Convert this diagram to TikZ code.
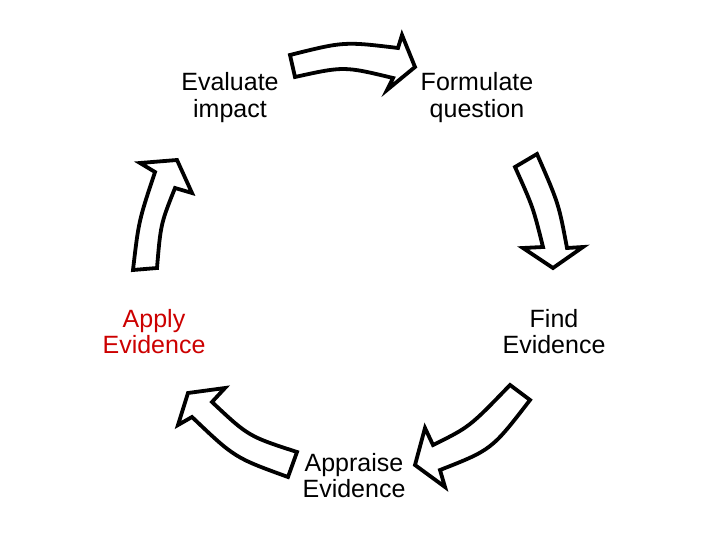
\documentclass[tikz,border=0pt]{standalone}
\usepackage{fontspec}
\setmainfont{Liberation Sans}
\definecolor{applyred}{RGB}{204,0,0}
\begin{document}
\begin{tikzpicture}[x=1pt,y=-1pt,
	steplabel/.style={align=center,anchor=base,inner sep=0pt,font=\fontsize{25}{26.5}\selectfont},
	blockarrow/.style={draw=black,fill=white,line width=3.8pt,line join=miter,miter limit=10}]
	\useasboundingbox (0,0) rectangle (720,540);
	\foreach \n/\x/\y/\c/\t in {eval/230/117.5/black/{Evaluate\\impact},form/477/117.5/black/{Formulate\\question},apply/154/353.5/applyred/{Apply\\Evidence},find/554/353.5/black/{Find\\Evidence},appr/354/497.5/black/{Appraise\\Evidence}}
	\node[steplabel,text=\c] (\n) at (\x,\y) {\t};
	% mui ten
	\draw[blockarrow] (290,55) .. controls (344,41.5) .. (398,48) -- (402,35) -- (415,67) -- (387,90) -- (393,78) .. controls (344,66.2) .. (295,77) -- cycle;
	\draw[blockarrow] (515,167) .. controls (533,207) .. (543,247) -- (523,248) -- (553,268) -- (583,247) -- (567,248) .. controls (558.7,203.7) .. (537,154) -- cycle;
	\draw[blockarrow] (510,385) .. controls (469.5,427) .. (433,445) -- (425,428) -- (415,465) -- (445,487) -- (440,470) .. controls (491.7,449.7) .. (530,400) -- cycle;
	\draw[blockarrow] (297,452) .. controls (248.5,436.3) .. (212,402) -- (225,388) -- (188,393) -- (178,425) -- (192,417) .. controls (234.7,457.7) .. (288,477) -- cycle;
	\draw[blockarrow] (133,270) .. controls (138.7,221) .. (155,172) -- (140,163) -- (177,160) -- (192,193) -- (175,188) .. controls (160.7,224) .. (157,268) -- cycle;
\end{tikzpicture}
\end{document}
